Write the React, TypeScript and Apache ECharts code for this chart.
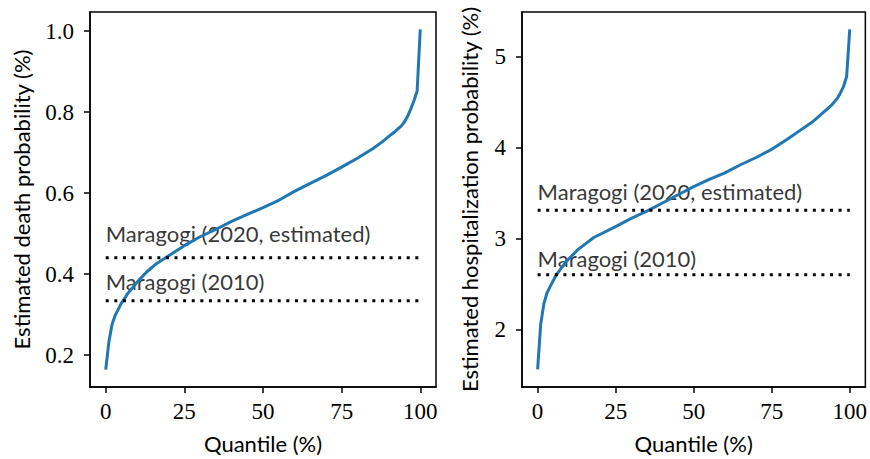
import React, { useEffect, useRef } from "react";
import * as echarts from "echarts";

// ---- data ----
const quantilesDeath = [0, 1, 2, 3, 5, 7, 10, 13, 16, 19, 22, 25, 30, 35, 40, 45, 50, 55, 60, 65, 70, 75, 80, 85, 88, 90, 92, 94, 95, 96, 97, 98, 99, 100];
const deathProb = [0.164, 0.232, 0.275, 0.298, 0.328, 0.352, 0.38, 0.405, 0.425, 0.44, 0.455, 0.47, 0.492, 0.51, 0.53, 0.547, 0.564, 0.582, 0.604, 0.624, 0.643, 0.664, 0.686, 0.71, 0.727, 0.74, 0.752, 0.766, 0.776, 0.79, 0.808, 0.828, 0.852, 1.004];

const quantilesHosp = [0, 1, 2, 3, 4, 6, 9, 13, 18, 25, 30, 35, 40, 45, 50, 55, 60, 65, 70, 75, 80, 85, 88, 91, 94, 96, 97, 98, 99, 100];
const hospProb = [1.56, 2.06, 2.28, 2.4, 2.47, 2.6, 2.74, 2.88, 3.01, 3.13, 3.22, 3.3, 3.39, 3.48, 3.57, 3.65, 3.72, 3.81, 3.89, 3.98, 4.09, 4.21, 4.28, 4.37, 4.46, 4.54, 4.6, 4.67, 4.78, 5.3];

const refLabels = ["Maragogi (2020, estimated)", "Maragogi (2010)"];
const deathRefs = [0.44, 0.334];
const hospRefs = [3.31, 2.6];
const deathLabelY = [0.486, 0.3675];
const hospLabelY = [3.45, 2.714];
const refStart = 0;
const refEnd = 100;

const xTicks = [0, 25, 50, 75, 100];
const deathTicks = [0.2, 0.4, 0.6, 0.8, 1.0];
const hospTicks = [2, 3, 4, 5];
const xRange = [-5, 105];
const deathRange = [0.121, 1.047];
const hospRange = [1.366, 5.49];

const xTitle = "Quantile (%)";
const deathTitle = "Estimated death probability (%)";
const hospTitle = "Estimated hospitalization probability (%)";

const SANS = "Lato";
const SERIF = "Liberation Serif";
const BLUE = "#1f77b4";
const SANS_SIZE = 22;
const SERIF_SIZE = 23;

function xAxis(gridIndex: number) {
  return {
    type: "value",
    gridIndex,
    min: xRange[0],
    max: xRange[1],
    axisLine: { show: true, onZero: false, lineStyle: { color: "#000", width: 1.5 } },
    axisTick: { show: true, length: 6, lineStyle: { color: "#000", width: 1.5 }, customValues: xTicks },
    axisLabel: { customValues: xTicks, color: "#000", fontFamily: SERIF, fontSize: SERIF_SIZE, margin: 13 },
    splitLine: { show: false },
    name: xTitle,
    nameLocation: "middle",
    nameGap: 45,
    nameTextStyle: { fontFamily: SANS, fontSize: SANS_SIZE, color: "#000", verticalAlign: "top" },
  };
}

function yAxis(gridIndex: number, range: number[], ticks: number[], title: string, fmt: (v: number) => string, gap: number) {
  return {
    type: "value",
    gridIndex,
    min: range[0],
    max: range[1],
    axisLine: { show: true, onZero: false, lineStyle: { color: "#000", width: 1.5 } },
    axisTick: { show: true, length: 6, lineStyle: { color: "#000", width: 1.5 }, customValues: ticks },
    axisLabel: { customValues: ticks, color: "#000", fontFamily: SERIF, fontSize: SERIF_SIZE, margin: 16, formatter: fmt },
    splitLine: { show: false },
    name: title,
    nameLocation: "middle",
    nameRotate: 90,
    nameGap: gap,
    nameTextStyle: { fontFamily: SANS, fontSize: SANS_SIZE, color: "#000" },
  };
}

function refSeries(idx: number, refs: number[]) {
  return refs.map((r) => ({
    type: "line",
    xAxisIndex: idx,
    yAxisIndex: idx,
    data: [
      [refStart, r],
      [refEnd, r],
    ],
    symbol: "none",
    silent: true,
    lineStyle: { color: "#000", width: 3, type: [3, 5.6], cap: "butt" },
  }));
}

function labelSeries(idx: number, ys: number[]) {
  return {
    type: "scatter",
    xAxisIndex: idx,
    yAxisIndex: idx,
    symbolSize: 0,
    silent: true,
    data: ys.map((y, i) => [refStart, y, refLabels[i]]),
    itemStyle: { color: "transparent" },
    label: {
      show: true,
      position: [0, 0],
      align: "left",
      verticalAlign: "bottom",
      offset: [0, 5],
      formatter: (p: any) => p.value[2],
      fontFamily: SANS,
      fontSize: SANS_SIZE,
      color: "#000",
    },
  };
}

export default function App() {
  const ref = useRef<HTMLDivElement>(null);
  useEffect(() => {
    if (!ref.current) return;
    const chart = echarts.init(ref.current, null, { renderer: "svg" });
    const gridBase = { show: true, borderColor: "#000", borderWidth: 1.5, top: 12, width: 346, height: 377, backgroundColor: "transparent" };
    chart.setOption({
      animation: false,
      backgroundColor: "#fff",
      grid: [
        { ...gridBase, left: 90 },
        { ...gridBase, left: 522 },
      ],
      xAxis: [xAxis(0), xAxis(1)],
      yAxis: [
        yAxis(0, deathRange, deathTicks, deathTitle, (v: number) => v.toFixed(1), 58),
        yAxis(1, hospRange, hospTicks, hospTitle, (v: number) => String(v), 42),
      ],
      series: [
        {
          type: "line",
          xAxisIndex: 0,
          yAxisIndex: 0,
          data: quantilesDeath.map((q, i) => [q, deathProb[i]]),
          symbol: "none",
          lineStyle: { color: BLUE, width: 3 },
          z: 3,
        },
        {
          type: "line",
          xAxisIndex: 1,
          yAxisIndex: 1,
          data: quantilesHosp.map((q, i) => [q, hospProb[i]]),
          symbol: "none",
          lineStyle: { color: BLUE, width: 3 },
          z: 3,
        },
        ...refSeries(0, deathRefs),
        ...refSeries(1, hospRefs),
        labelSeries(0, deathLabelY),
        labelSeries(1, hospLabelY),
      ],
    });
    return () => chart.dispose();
  }, []);
  return <div ref={ref} style={{ position: "absolute", left: 0, top: 0, width: 870, height: 459 }} />;
}
